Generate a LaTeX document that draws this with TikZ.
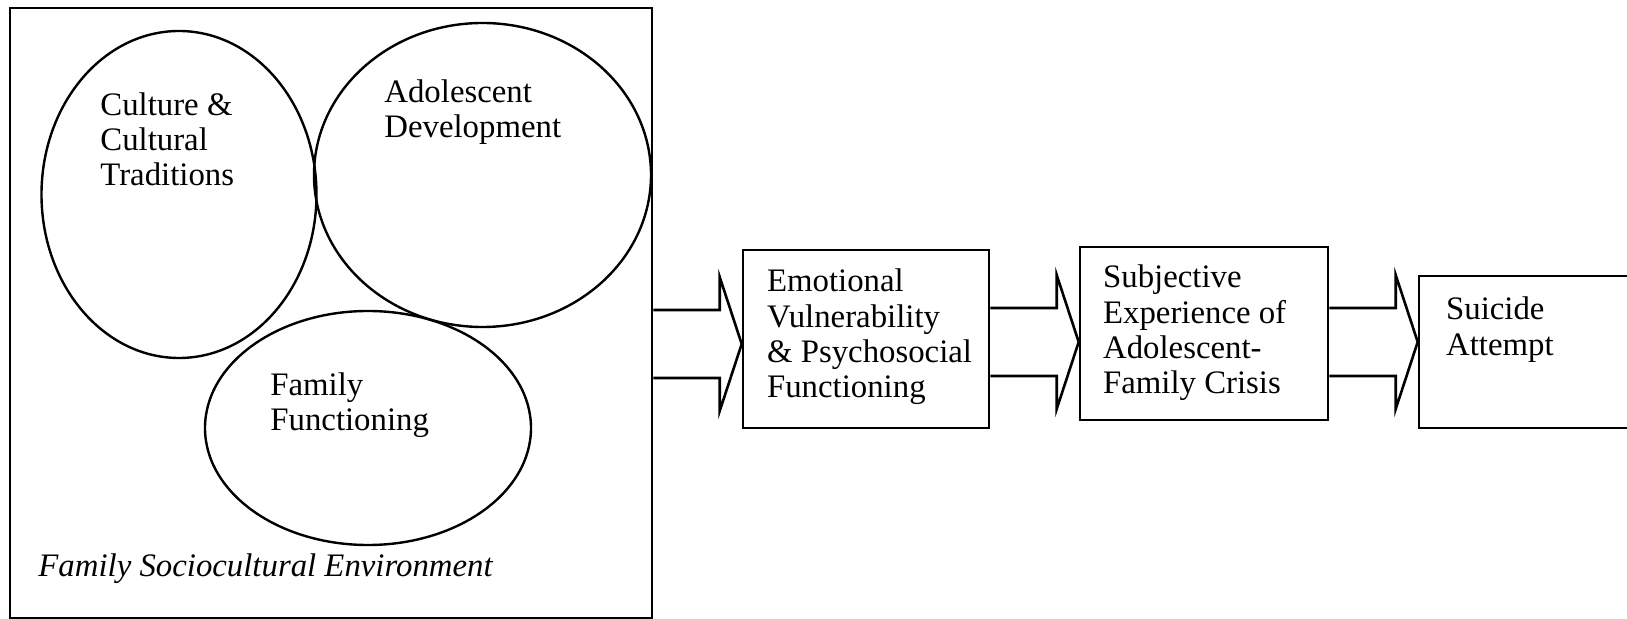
\documentclass[tikz,border=0pt]{standalone}
\usepackage{fontspec}
\setmainfont{Liberation Serif}
\usetikzlibrary{shapes.geometric,calc}

\tikzset{
  stage/.style={draw, line width=1.3pt, inner sep=0pt},
  factor/.style={draw, ellipse, line width=1.2pt, inner sep=0pt},
  words/.style={font=\fontsize{16.4}{17.6}\selectfont, align=left, inner sep=0pt, anchor=north west},
  arrowline/.style={line width=1.3pt, line join=miter}
}

% hollow block arrow from box #1 to box #2 at height #3
\newcommand{\flowarrow}[3]{%
  \draw[arrowline] ($(#1.east |- 0,#3)+(0,-34)$) -- ($(#2.west |- 0,#3)+(-22,-34)$)
    -- ($(#2.west |- 0,#3)+(-22,-67)$) -- (#2.west |- 0,#3)
    -- ($(#2.west |- 0,#3)+(-22,67)$) -- ($(#2.west |- 0,#3)+(-22,34)$)
    -- ($(#1.east |- 0,#3)+(0,34)$);}

\begin{document}
\begin{tikzpicture}[x=0.5pt, y=-0.5pt]
    \useasboundingbox (0,0) rectangle (1627,619);

    % Environment box and its three parts
    \node[stage, minimum width=321pt, minimum height=305pt] (env) at (331,313) {};
    \node[factor, minimum width=137.5pt, minimum height=163.5pt] (cult) at (179,194.5) {};
    \node[factor, minimum width=168.5pt, minimum height=152pt] (adol) at (482.5,175) {};
    \node[factor, minimum width=163pt, minimum height=117pt] (famf) at (368,428) {};

    \node[words] (culttxt) at (100,92) {Culture \&\\Cultural\\Traditions};
    \node[words] (adoltxt) at (384,79) {Adolescent\\Development};
    \node[words] (famftxt) at (270,372) {Family\\Functioning};
    \node[words, font=\fontsize{16.4}{17.6}\selectfont\itshape] (envtxt) at (38,553) {Family Sociocultural Environment};

    % Stages
    \node[stage, minimum width=123pt, minimum height=89pt] (emot) at (866,339) {};
    \node[stage, minimum width=124pt, minimum height=86.5pt] (subj) at (1204,333.5) {};
    \node[stage, minimum width=106.5pt, minimum height=76pt] (suic) at (1525.5,352) {};

    \node[words] (emottxt) at ([shift={(25,20)}]emot.north west) {Emotional\\Vulnerability\\\& Psychosocial\\Functioning};
    \node[words] (subjtxt) at ([shift={(24,19)}]subj.north west) {Subjective\\Experience of\\Adolescent-\\Family Crisis};
    \node[words] (suictxt) at ([shift={(28,22)}]suic.north west) {Suicide\\Attempt};

    % Block arrows
    \flowarrow{env}{emot}{344}
    \flowarrow{emot}{subj}{342}
    \flowarrow{subj}{suic}{342}
\end{tikzpicture}
\end{document}
